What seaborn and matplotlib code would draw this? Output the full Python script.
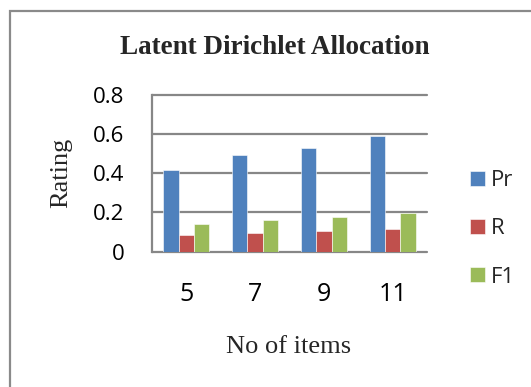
import matplotlib
matplotlib.use("Agg")
import matplotlib.pyplot as plt
from matplotlib.patches import Rectangle
import seaborn as sns
import pandas as pd

# Chart values
items = ["5", "7", "9", "11"]
series = ["Pr", "R", "F1"]
pr = [0.416, 0.491, 0.530, 0.590]
r = [0.085, 0.097, 0.105, 0.116]
f1 = [0.140, 0.161, 0.177, 0.196]
yticks = [0, 0.2, 0.4, 0.6, 0.8]
ytick_labels = ["0", "0.2", "0.4", "0.6", "0.8"]
colors = ["#4F81BD", "#C0504D", "#9BBB59"]

df = pd.DataFrame({
    "items": items * 3,
    "metric": ["Pr"] * 4 + ["R"] * 4 + ["F1"] * 4,
    "rating": pr + r + f1,
})

sns.set_style("white")
plt.rcParams["font.family"] = ["Open Sans", "DejaVu Sans"]

W, H = 531, 387
fig = plt.figure(figsize=(W / 100, H / 100), dpi=100)
fig.patch.set_facecolor("white")

ax = fig.add_axes([152 / W, 1 - 251.7 / H, 275 / W, 157 / H])
sns.barplot(data=df, x="items", y="rating", hue="metric", order=items,
            hue_order=series, palette=colors, width=0.67, gap=0,
            saturation=1, errorbar=None, ax=ax, legend=True,
            edgecolor="white", linewidth=0.4)

grid_col = "#878787"
ax.set_xlim(-0.5, 3.5)
ax.set_ylim(0, 0.8)
ax.set_yticks(yticks)
ax.set_yticklabels(ytick_labels)
ax.set_axisbelow(True)
ax.yaxis.grid(True, color=grid_col, linewidth=1.6)
for side in ["top", "right", "bottom"]:
    ax.spines[side].set_visible(False)
ax.spines["left"].set_color(grid_col)
ax.spines["left"].set_linewidth(1.6)
ax.tick_params(axis="y", direction="out", length=6.5, width=1.6,
               color=grid_col, labelsize=16, pad=13.5, labelcolor="black")
ax.tick_params(axis="x", length=0, labelsize=18, pad=22, labelcolor="black")
ax.set_xlabel("")
ax.set_ylabel("")
for g in ax.get_ygridlines():
    g.set_clip_on(False)

# Legend to the right of the plot area
handles, labels = ax.get_legend_handles_labels()
ax.legend_.remove()
fig.legend(handles, labels, loc="center left",
           bbox_to_anchor=(470 / W, 1 - 229 / H), frameon=False,
           fontsize=16, handlelength=0.68, handleheight=0.68,
           handletextpad=0.25, labelspacing=1.22, borderpad=0,
           borderaxespad=0)

serif = ["Liberation Serif", "DejaVu Serif"]
fig.text(275 / W, 1 - 47.5 / H, "Latent Dirichlet Allocation", ha="center",
         va="center", fontsize=19.5, fontweight="bold", family=serif)
fig.text(61 / W, 1 - 173 / H, "Rating", ha="center", va="center",
         rotation=90, fontsize=19, family=serif)
fig.text(289 / W, 1 - 347 / H, "No of items", ha="center", va="center",
         fontsize=19, family=serif)

# Outer chart frame (continues past the right and bottom edges)
fig.patches.append(Rectangle((10 / W, -0.5), 1.5, 1.5 - 11 / H,
                             transform=fig.transFigure, fill=False,
                             edgecolor="#8a8a8a", linewidth=1.6))

fig.savefig("out.png", dpi=100)
